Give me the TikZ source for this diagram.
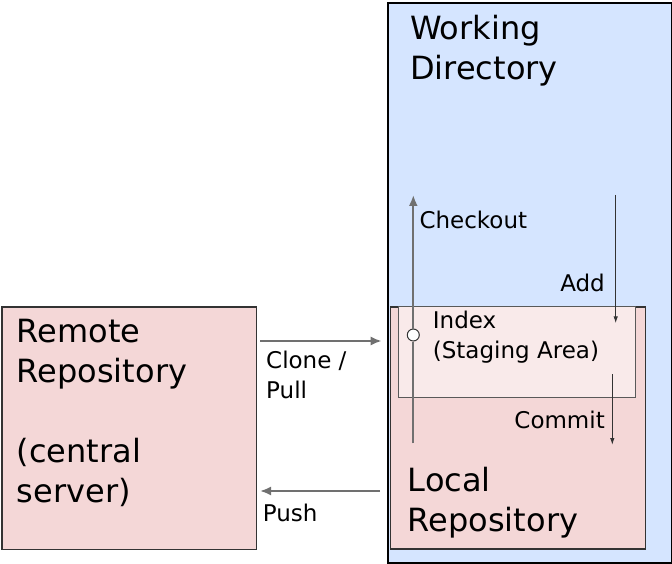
\documentclass[tikz,border=0pt]{standalone}
\usepackage{fontspec}
\setmainfont{DejaVu Sans}
\usetikzlibrary{arrows.meta}

\definecolor{wdblue}{HTML}{D5E5FF}
\definecolor{repopink}{HTML}{F4D7D7}
\definecolor{idxpink}{HTML}{F9EAEA}
\definecolor{flowgray}{HTML}{707070}

\begin{document}
\begin{tikzpicture}[x=1pt, y=-1pt,
  box/.style={rectangle, inner sep=0pt, anchor=north west},
  big/.style={font=\fontsize{32}{40}\selectfont, anchor=base west, inner sep=0pt, align=left},
  small/.style={font=\fontsize{23}{30}\selectfont, anchor=base west, inner sep=0pt, align=left},
  flow/.style={draw=flowgray, line width=2pt, -{Latex[length=11pt,width=9pt]}},
  stage/.style={draw=black!80, line width=1pt, -{Latex[length=7pt,width=4.5pt]}}]

\useasboundingbox (0,0) rectangle (672,564);

% boxes
\node[box, draw=black, line width=2pt, fill=wdblue, minimum width=283.5pt, minimum height=560pt] (working) at (387,1.7) {};
\node[box, draw=black!80, line width=1.5pt, fill=repopink, minimum width=255pt, minimum height=242.3pt] (local) at (389.5,306) {};
\node[box, draw=black!65, line width=1pt, fill=idxpink, minimum width=237.5pt, minimum height=91.3pt] (index) at (397.5,306) {};
\node[box, draw=black!80, line width=1.5pt, fill=repopink, minimum width=254.5pt, minimum height=242.5pt] (remote) at (1,306) {};

% labels (base = last line)
\node[big] (wdtext) at (410,80) {Working\\Directory};
\node[big] (rrtext) at (16.7,502) {Remote\\Repository\\[40pt](central\\server)};
\node[big] (lrtext) at (407.7,531.7) {Local\\Repository};
\node[small] (cotext) at (419.3,228.3) {Checkout};
\node[small, anchor=base east] (addtext) at (605,291.7) {Add};
\node[small] (idxtext) at (432.7,358.3) {Index\\(Staging Area)};
\node[small, anchor=base east] (cmtext) at (605,428.3) {Commit};
\node[small] (cltext) at (266,398.3) {Clone /\\Pull};
\node[small] (pstext) at (262.7,521.7) {Push};

% arrow ends
\coordinate (cobot) at (413.3,443.3);
\coordinate (cotop) at (413.3,195);
\coordinate (addtop) at (615.7,195);
\coordinate (addbot) at (615.7,323.3);
\coordinate (cmtop) at (612.3,374);
\coordinate (cmbot) at (612.3,445);
\coordinate (clleft) at (260,341);
\coordinate (clright) at (381.7,341);
\coordinate (psright) at (380,491);
\coordinate (psleft) at (260,491);

\node[circle, draw=black!80, fill=white, line width=1pt, minimum size=12pt, inner sep=0pt] (sel) at (413.3,335) {};

\draw[flow] (cobot) -- (sel) -- (cotop);
\draw[stage] (addtop) -- (addbot);
\draw[stage] (cmtop) -- (cmbot);
\draw[flow] (clleft) -- (clright);
\draw[flow] (psright) -- (psleft);
\end{tikzpicture}
\end{document}
